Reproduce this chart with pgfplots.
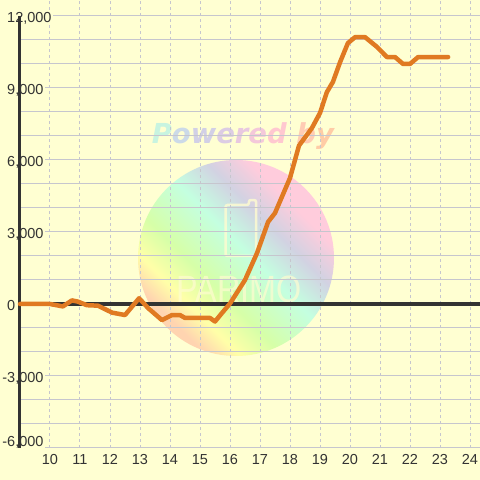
\documentclass[border=0pt]{standalone}
\usepackage{pgfplots}
\pgfplotsset{compat=1.18}
\usepackage{fontspec}
\setmainfont{Liberation Sans}
\newfontfamily\wmfont{DejaVu Sans}
\definecolor{bg}{HTML}{FFFFD2}
\definecolor{gridc}{HTML}{C6C6CE}
\definecolor{textc}{HTML}{333333}
\definecolor{axisblack}{HTML}{333333}
\definecolor{lineor}{HTML}{E07A22}
\definecolor{wpeach}{HTML}{FFD4B0}
\definecolor{wyellow}{HTML}{FFFFA8}
\definecolor{wgreen}{HTML}{D6FFA8}
\definecolor{wmint}{HTML}{C4FFE0}
\definecolor{wgray}{HTML}{D2D2E2}
\definecolor{wpink}{HTML}{FFCCDC}
\definecolor{cream}{HTML}{FFFCD0}
\definecolor{c1}{HTML}{C8F4E0}
\definecolor{c2}{HTML}{CCDAE8}
\definecolor{c3}{HTML}{D2D0E6}
\definecolor{c4}{HTML}{DCCCE4}
\definecolor{c5}{HTML}{E8C8E0}
\definecolor{c6}{HTML}{F4C8DA}
\definecolor{c7}{HTML}{FFC8D0}
\definecolor{c8}{HTML}{FFCCB4}
\definecolor{c9}{HTML}{FFCCA6}
\newcommand\negsix{\llap{-}6,000}
\newcommand\negthree{\llap{-}3,000}
\pgfdeclarehorizontalshading{wm}{100bp}{color(0bp)=(wpeach); color(27bp)=(wpeach); color(33bp)=(wyellow); color(41bp)=(wgreen); color(53bp)=(wmint); color(62bp)=(wgray); color(70bp)=(wpink); color(100bp)=(wpink)}
\begin{document}
\begin{tikzpicture}
\begin{axis}[
  set layers=standard,
  scale only axis,
  width=460pt, height=448pt,
  xmin=9, xmax=24.33333,
  ymin=-6000, ymax=12666.67,
  clip=false,
  axis line style={draw=none},
  tick style={draw=none},
  xtick={10,11,...,24},
  xmajorgrids,
  x grid style={draw=gridc, line width=1pt, dash pattern=on 3pt off 3pt},
  ytick={-3000,0,3000,6000,9000,12000},
  yticklabels={\negthree,0,{3,000},{6,000},{9,000},{12,000}},
  minor ytick={-5000,-4000,-2000,-1000,1000,2000,4000,5000,7000,8000,10000,11000},
  extra y ticks={-6000},
  extra y tick labels={\negsix},
  extra y tick style={yticklabel style={yshift=8pt}, grid=major},
  ymajorgrids, yminorgrids,
  y grid style={draw=gridc, line width=1pt},
  /pgf/number format/assume math mode=true,
  xticklabel style={font=\fontsize{14.5}{14.5}\selectfont, text=textc, yshift=-3pt},
  yticklabel style={font=\fontsize{14.5}{14.5}\selectfont, text=textc, anchor=west, xshift=-14.5pt, yshift=-1.5pt,
    fill=bg, inner sep=1.5pt, text height=10.5pt, text depth=1pt},
]
\begin{pgfonlayer}{axis background}
\fill[bg] ([shift={(-20pt,-32pt)}]rel axis cs:0,0) rectangle (rel axis cs:1,1);
\shade[shading=wm, shading angle=45] (axis cs:16.2,1917) circle[radius=98pt];
\draw[cream, line width=2.5pt, rounded corners=2pt, opacity=0.8]
  (axis cs:15.85,4125) -- (axis cs:16.63,4125) -- (axis cs:16.63,4333) -- (axis cs:16.87,4333)
  -- (axis cs:16.87,2000) -- (axis cs:15.85,2000) -- cycle;
\node[anchor=base, text=cream, opacity=0.7, font=\fontsize{38}{38}\selectfont, xscale=0.85, inner sep=0pt]
  at (axis cs:16.3,60) {PARIMO};
\node[anchor=base, inner sep=0pt, font=\wmfont\bfseries\itshape\fontsize{27.5}{27.5}\selectfont]
  at (axis cs:16.43,6708) {\textcolor{c1}{P}\textcolor{c2}{o}\textcolor{c3}{w}\textcolor{c4}{e}\textcolor{c5}{r}\textcolor{c6}{e}\textcolor{c7}{d} \textcolor{c8}{b}\textcolor{c9}{y}};
\end{pgfonlayer}
\draw[axisblack, line width=3pt] (axis cs:9,-6000) -- (axis cs:9,12000);
\draw[axisblack, line width=3.3pt] (axis cs:9,0) -- (axis cs:24.33333,0);
\addplot[lineor, line width=4.5pt, line join=round, line cap=round] coordinates {
(9,0) (10,0) (10.43,-100) (10.73,150) (10.93,100) (11.23,-50) (11.6,-70)
(12.07,-360) (12.5,-460) (12.97,240) (13.27,-170) (13.73,-670) (14.07,-460)
(14.33,-460) (14.5,-580) (15.33,-580) (15.5,-730) (15.73,-380) (16.0,20)
(16.5,1000) (16.9,2120) (17.27,3420) (17.5,3790) (18.0,5250) (18.3,6600)
(18.73,7330) (19.0,7960) (19.23,8830) (19.43,9250) (19.67,10080) (19.93,10870)
(20.17,11120) (20.5,11120) (20.9,10710) (21.23,10290) (21.5,10290) (21.77,10000)
(22.0,10000) (22.27,10290) (23.27,10290)
};
\end{axis}
\pgfresetboundingbox
\path (-20pt,-32pt) rectangle (460pt,448pt);
\end{tikzpicture}
\end{document}
